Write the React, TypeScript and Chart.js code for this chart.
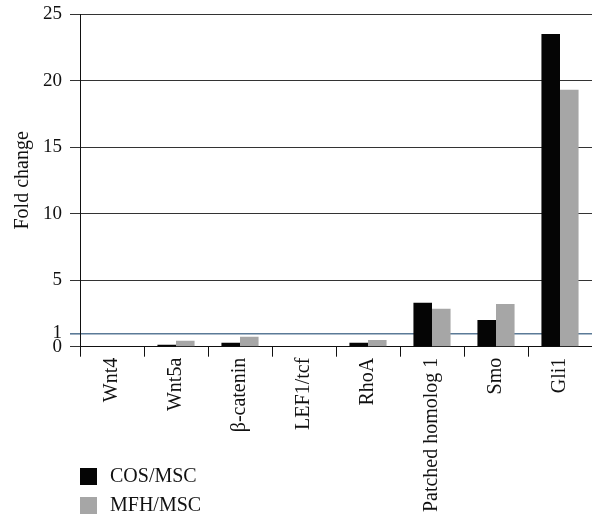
import React, { useEffect, useRef } from "react";
import { Chart, registerables } from "chart.js";

Chart.register(...registerables);

const categories = ["Wnt4", "Wnt5a", "β-catenin", "LEF1/tcf", "RhoA", "Patched homolog 1", "Smo", "Gli1"];
const cosMsc = [0, 0.15, 0.3, 0, 0.3, 3.3, 2.0, 23.5];
const mfhMsc = [0, 0.45, 0.75, 0, 0.5, 2.85, 3.2, 19.3];
const yTickValues = [0, 1, 5, 10, 15, 20, 25];
const seriesNames = ["COS/MSC", "MFH/MSC"];

const FONT = "'Liberation Serif', 'Times New Roman', serif";

const legendPlugin = {
  id: "customLegend",
  afterDraw(chart: any) {
    const ctx = chart.ctx;
    ctx.save();
    chart.data.datasets.forEach((ds: any, i: number) => {
      const y = 468 + i * 29;
      ctx.fillStyle = ds.backgroundColor;
      ctx.fillRect(80, y, 17, 17);
      ctx.fillStyle = "#111";
      ctx.font = `20px ${FONT}`;
      ctx.textBaseline = "middle";
      ctx.textAlign = "left";
      ctx.fillText(ds.label, 110, y + 9);
    });
    ctx.restore();
  },
};

export default function App() {
  const ref = useRef<HTMLCanvasElement>(null);
  useEffect(() => {
    if (!ref.current) return;
    const chart = new Chart(ref.current, {
      type: "bar",
      data: {
        labels: categories,
        datasets: [
          { label: seriesNames[0], data: cosMsc, backgroundColor: "#050505", categoryPercentage: 0.58, barPercentage: 1 },
          { label: seriesNames[1], data: mfhMsc, backgroundColor: "#a6a6a6", categoryPercentage: 0.58, barPercentage: 1 },
        ],
      },
      options: {
        animation: false,
        responsive: true,
        maintainAspectRatio: false,
        layout: { padding: { top: 14, left: 0, right: 0, bottom: 0 } },
        plugins: { legend: { display: false }, tooltip: { enabled: false } },
        scales: {
          x: {
            offset: true,
            grid: { display: true, drawOnChartArea: false, drawTicks: true, tickLength: 10, color: "#111", offset: true },
            border: { display: true, color: "#111", width: 1 },
            ticks: {
              color: "#111",
              font: { family: FONT, size: 20 },
              maxRotation: 90,
              minRotation: 90,
              padding: 1,
              autoSkip: false,
            },
            afterFit(scale: any) {
              scale.height = 173.3;
            },
          },
          y: {
            min: 0,
            max: 25,
            afterBuildTicks(scale: any) {
              scale.ticks = yTickValues.map((v) => ({ value: v }));
            },
            afterFit(scale: any) {
              scale.width = 80;
              scale.paddingTop = 0;
              scale.paddingBottom = 0;
            },
            grid: {
              drawTicks: true,
              tickLength: 10,
              color: (c: any) => (c.tick && c.tick.value === 1 ? "#5b7a97" : "#333"),
              lineWidth: (c: any) => (c.tick && c.tick.value === 1 ? 1.6 : 1),
            },
            border: { display: true, color: "#111", width: 1 },
            ticks: {
              color: "#111",
              font: { family: FONT, size: 19, lineHeight: 1 },
              padding: 8,
              autoSkip: false,
            },
            title: {
              display: true,
              text: "Fold change",
              color: "#111",
              font: { family: FONT, size: 20 },
              padding: { top: 11, bottom: 0 },
            },
          },
        },
      },
      plugins: [legendPlugin],
    });
    return () => chart.destroy();
  }, []);
  return (
    <div style={{ position: "absolute", left: 0, top: 0, width: 592, height: 520, background: "#fff" }}>
      <canvas ref={ref} />
    </div>
  );
}
